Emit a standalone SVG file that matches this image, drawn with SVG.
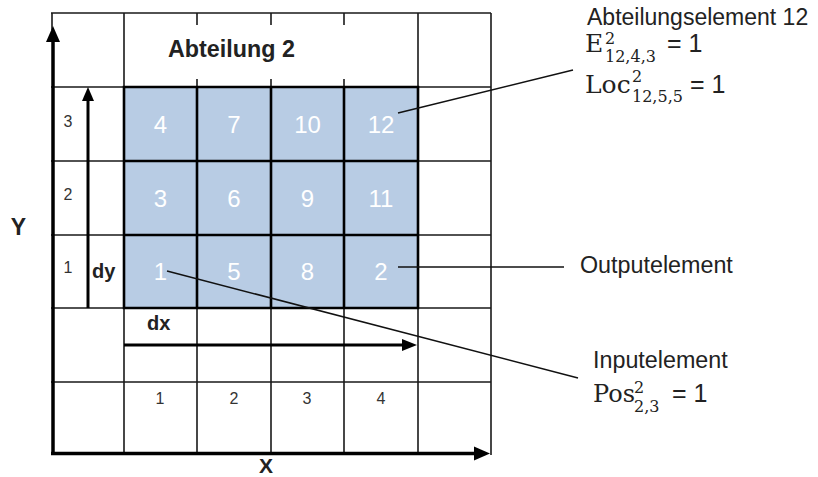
<svg xmlns="http://www.w3.org/2000/svg" width="818" height="477" viewBox="0 0 818 477">
<style>
.thin{stroke:#1a1a1a;stroke-width:1.6;fill:none}
.thick{stroke:#000;stroke-width:2.6;fill:none}
.axis{stroke:#000;stroke-width:3.5;fill:none}
.head{fill:#000}
.lead{stroke:#111;stroke-width:1.5;fill:none}
.lbl{font-family:"Liberation Sans",Arial,sans-serif;fill:#222}
.b{font-weight:bold}
.num{font-family:"Liberation Sans",Arial,sans-serif;font-size:24px;fill:#fff;text-anchor:middle}
.sm{font-family:"Liberation Sans",Arial,sans-serif;font-size:16px;fill:#333;text-anchor:middle}
.m{font-family:"DejaVu Serif","Liberation Serif",serif;fill:#222;font-size:25px}
.s{font-family:"DejaVu Serif","Liberation Serif",serif;fill:#222;font-size:16px}
</style>
<rect width="818" height="477" fill="#fff"/>
<g id="grid">
<rect x="124" y="87" width="294" height="221" fill="#b8cce4"/>
<path class="thin" d="M51 13H491M491 13V455M51 87H124M418 87H491M51 161H124M418 161H491M51 235H124M418 235H491M51 308H124M418 308H491M51 382H491M124 13V87M124 308V455M418 13V87M418 308V455M197 13V25M197 79V87M271 13V25M271 79V87M344 13V25M344 79V87M197 308V455M271 308V455M344 308V455M52 13V30"/>
<path class="thick" d="M124 87H418V308H124ZM197 87V308M271 87V308M344 87V308M124 161H418M124 235H418"/>
</g>
<g id="axes">
<path class="axis" d="M53 455V38"/>
<polygon class="head" points="53,26 46,42 60,42"/>
<path class="axis" d="M51 453.5H476"/>
<polygon class="head" points="490,453.5 474,446.5 474,460.5"/>
<path class="axis" style="stroke-width:3" d="M88 308V98"/>
<polygon class="head" points="88,87 82,101 94,101"/>
<path class="axis" style="stroke-width:3" d="M124 345H404"/>
<polygon class="head" points="417,345 402,339 402,351"/>
</g>
<g id="cells">
<text class="num" x="160.5" y="133">4</text>
<text class="num" x="234" y="133">7</text>
<text class="num" x="307.5" y="133">10</text>
<text class="num" x="381" y="133">12</text>
<text class="num" x="160.5" y="207">3</text>
<text class="num" x="234" y="207">6</text>
<text class="num" x="307.5" y="207">9</text>
<text class="num" x="381" y="207">11</text>
<text class="num" x="160.5" y="280">1</text>
<text class="num" x="234" y="280">5</text>
<text class="num" x="307.5" y="280">8</text>
<text class="num" x="381" y="280">2</text>
</g>
<g id="labels">
<text class="lbl b" x="168" y="57" font-size="23.3">Abteilung 2</text>
<text class="lbl b" x="18.5" y="235" font-size="23" text-anchor="middle">Y</text>
<text class="lbl b" x="266" y="473" font-size="21" text-anchor="middle">X</text>
<text class="lbl b" x="92" y="278" font-size="20">dy</text>
<text class="lbl b" x="147" y="330" font-size="20">dx</text>
<text class="sm" x="68" y="127">3</text>
<text class="sm" x="68" y="200">2</text>
<text class="sm" x="68" y="273">1</text>
<text class="sm" x="160" y="404">1</text>
<text class="sm" x="234" y="404">2</text>
<text class="sm" x="307" y="404">3</text>
<text class="sm" x="381" y="404">4</text>
</g>
<g id="connectors">
<path class="lead" d="M398 113L573 70"/>
<path class="lead" d="M398 267H564"/>
<path class="lead" d="M167 271L578 378"/>
</g>
<g id="abteilungselement">
<text class="lbl" x="587" y="25" font-size="23">Abteilungselement 12</text>
<text class="m" x="585" y="52">E</text>
<text class="s" x="605" y="43.5">2</text>
<text class="s" x="605" y="62">12,4,3</text>
<text class="lbl" x="667" y="52" font-size="25">= 1</text>
<text class="m" x="585" y="93">Loc</text>
<text class="s" x="632" y="82">2</text>
<text class="s" x="632" y="102">12,5,5</text>
<text class="lbl" x="690" y="93" font-size="25">= 1</text>
</g>
<g id="outputelement">
<text class="lbl" x="580" y="273" font-size="23.3">Outputelement</text>
</g>
<g id="inputelement">
<text class="lbl" x="593" y="368" font-size="23.3">Inputelement</text>
<text class="m" x="593" y="402" style="font-size:24px">Pos</text>
<text class="s" x="634" y="393">2</text>
<text class="s" x="634" y="412">2,3</text>
<text class="lbl" x="672" y="402" font-size="25">= 1</text>
</g>
</svg>
